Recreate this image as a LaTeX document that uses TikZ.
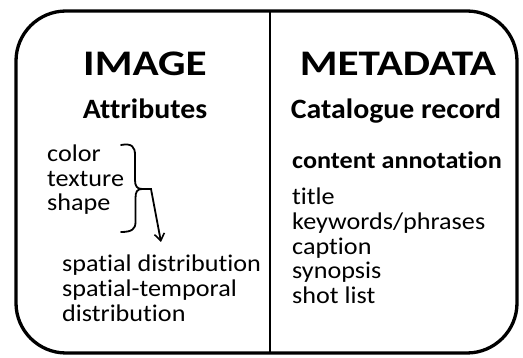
\documentclass[tikz,border=0pt]{standalone}
\usepackage{fontspec}
\setmainfont{Carlito}[Ligatures=NoCommon]
\newfontfamily\headfont{Carlito}[Ligatures=NoCommon, FakeStretch=1.2]
\newfontfamily\subfont{Carlito}[Ligatures=NoCommon, FakeStretch=1.065]
\newfontfamily\bodyfont{Carlito}[Ligatures=NoCommon, FakeStretch=1.09]
\usetikzlibrary{arrows.meta}
\begin{document}
\begin{tikzpicture}[x=1pt,y=-1pt,
  heading/.style={font=\headfont\fontsize{36}{36}\selectfont\bfseries, anchor=base, inner sep=0pt},
  subheading/.style={font=\subfont\fontsize{28}{28}\selectfont\bfseries, anchor=base, inner sep=0pt},
  entry/.style={font=\bodyfont\fontsize{24}{24}\selectfont, anchor=base west, inner sep=0pt},
  boldentry/.style={entry, font=\bodyfont\fontsize{24}{24}\selectfont\bfseries},
  frame/.style={line width=3.3pt, rounded corners=50pt},
  divider/.style={line width=1.3pt},
  bracket/.style={line width=1.8pt, line cap=round, line join=round},
  pointer/.style={line width=1.8pt, -{Straight Barb[length=7pt,width=10pt,line width=1.6pt]}}]
\useasboundingbox (0,0) rectangle (523,358);

% outer frame and column divider
\draw[frame] (16,11) rectangle (517,353);
\coordinate (dtop) at (270,11);
\coordinate (dbot) at (270,353);
\draw[divider] (dtop) -- (dbot);

% left column: image attributes
\node[heading] (image) at (145,76) {IMAGE};
\node[subheading] (attr) at (145,118.5) {Attributes};
\node[entry] (color) at (47,162) {color};
\node[entry] (texture) at (47,186.5) {texture};
\node[entry] (shape) at (47,211) {shape};
\node[entry] (spatial) at (62,272) {spatial distribution};
\node[entry] (spattemp) at (62,297) {spatial-temporal};
\node[entry] (distr) at (62,322) {distribution};

% brace grouping the low-level attributes
\coordinate (cusp) at (142,189);
\draw[bracket] (121,145) .. controls (132,143) and (135,147) .. (135,155)
  -- (135,180) .. controls (135,186) and (137,189) .. (cusp)
  .. controls (137,189) and (135.5,192) .. (135.5,198)
  -- (135.5,222) .. controls (135.5,229) and (132,232) .. (121,232);
\coordinate (bend) at (151,189);
\coordinate (tip) at (161,242);
\draw[pointer] (cusp) -- (bend) -- (tip);

% right column: metadata record
\node[heading] (meta) at (398,76) {METADATA};
\node[subheading] (record) at (396,118.5) {Catalogue record};
\node[boldentry] (content) at (292,169) {content annotation};
\node[entry] (title) at (292,205) {title};
\node[entry] (keywords) at (292,230) {keywords/phrases};
\node[entry] (caption) at (292,254.5) {caption};
\node[entry] (synopsis) at (292,279) {synopsis};
\node[entry] (shotlist) at (292,304) {shot list};
\end{tikzpicture}
\end{document}
